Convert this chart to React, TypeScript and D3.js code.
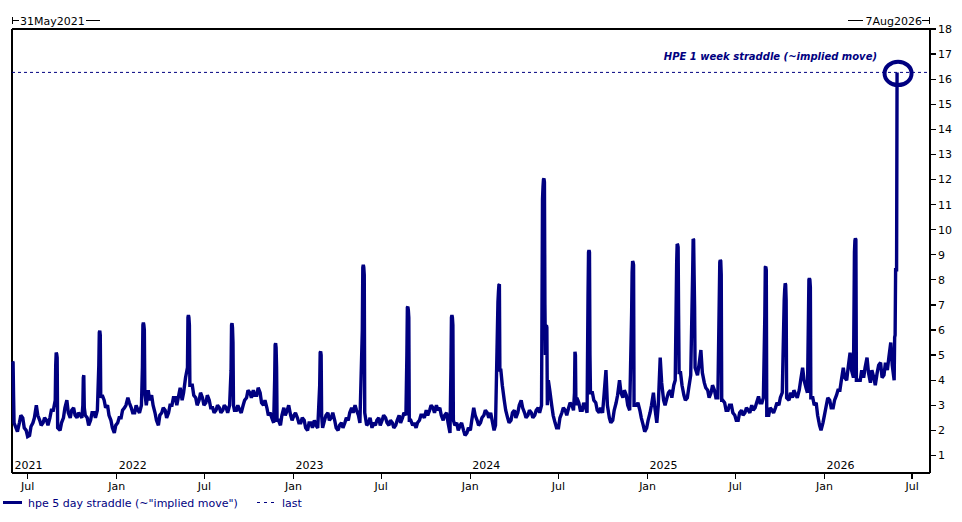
import React from "react";
import * as d3 from "d3";

// ---- data ----
const rangeStart = "2021-05-31";
const rangeEnd = "2026-08-07";
const weeklyStart = "2021-05-31";
// Monday readings
const weeklyValues: number[] = [
  2.2, 2.1, 2.3, 2.5, 2.0, 1.8, 2.3, 3.0, 2.4, 2.3,
  2.4, 2.5, 2.8, 2.9, 2.0, 2.5, 3.2, 2.5, 2.9, 2.5,
  2.6, 2.9, 2.5, 2.4, 2.7, 2.8, 3.0, 3.2, 3.0, 2.4,
  1.9, 2.3, 2.5, 2.9, 3.3, 2.9, 2.7, 2.8, 3.0, 3.3,
  3.6, 3.4, 2.7, 2.2, 2.7, 2.8, 2.7, 3.0, 3.3, 3.4,
  3.2, 4.1, 3.0, 3.8, 3.3, 3.2, 3.3, 3.1, 3.2, 2.9,
  2.8, 2.9, 2.8, 2.9, 3.0, 3.0, 2.8, 2.8, 3.0, 3.3,
  3.5, 3.6, 3.4, 3.5, 3.0, 2.9, 2.7, 2.3, 2.6, 2.2,
  2.9, 2.8, 2.6, 2.6, 2.5, 2.3, 2.4, 2.0, 2.3, 2.4,
  2.1, 2.3, 2.4, 2.7, 2.5, 2.4, 2.0, 2.3, 2.3, 2.4,
  2.9, 3.0, 2.6, 1.7, 2.5, 2.3, 2.1, 2.2, 2.5, 2.4,
  2.5, 2.2, 2.3, 2.2, 2.6, 2.5, 2.6, 2.6, 2.2, 2.1,
  2.4, 2.6, 2.8, 2.8, 2.9, 3.0, 2.9, 2.4, 2.7, 1.9,
  2.4, 2.3, 2.2, 2.0, 1.9, 2.0, 2.9, 2.4, 2.3, 2.6,
  2.7, 2.7, 2.0, 2.4, 4.4, 3.2, 2.5, 2.4, 2.8, 2.7,
  3.2, 2.7, 2.6, 2.7, 2.6, 2.9, 3.0, 3.0, 4.0, 3.0,
  2.3, 2.1, 2.7, 2.8, 2.9, 3.0, 3.0, 3.1, 2.8, 2.9,
  3.0, 3.5, 3.1, 2.7, 2.7, 4.4, 2.5, 2.4, 3.1, 4.0,
  3.3, 3.4, 2.8, 2.9, 3.0, 2.8, 2.2, 2.1, 2.7, 3.5,
  2.3, 4.9, 3.2, 3.3, 3.6, 3.8, 4.0, 4.3, 3.4, 3.3,
  4.2, 4.5, 4.2, 5.2, 3.9, 3.6, 3.5, 3.6, 3.3, 3.4,
  3.1, 2.8, 3.0, 2.6, 2.4, 2.8, 2.7, 2.8, 3.0, 2.9,
  3.35, 3.1, 3.2, 2.6, 2.8, 2.9, 3.0, 3.5, 3.3, 3.2,
  3.3, 3.4, 3.6, 4.5, 3.7, 3.8, 3.3, 3.1, 2.2, 2.3,
  3.0, 3.2, 2.9, 3.4, 3.6, 4.5, 4.0, 5.1, 4.1, 4.2,
  4.0, 4.1, 4.9, 3.9, 4.1, 4.3, 4.7, 4.2, 4.4, 5.5,
  4.0,
];
// Thursday readings (other edge of the daily band)
const midweekValues: number[] = [
  2.45, 1.95, 2.6, 2.1, 1.75, 2.15, 2.5, 2.6, 2.2, 2.5,
  2.2, 2.8, 2.6, 3.2, 2.3, 2.9, 2.7, 2.8, 2.6, 2.7,
  2.5, 2.6, 2.2, 2.7, 2.5, 3.0, 3.4, 2.9, 2.6, 2.1,
  2.2, 2.5, 2.8, 3.0, 3.1, 2.7, 3.0, 2.7, 3.3, 3.0,
  3.2, 3.0, 2.4, 2.6, 2.9, 2.5, 3.0, 3.3, 3.0, 3.7,
  3.5, 3.5, 3.5, 3.4, 3.0, 3.5, 3.0, 3.4, 2.9, 2.7,
  3.0, 2.7, 3.0, 2.7, 3.2, 2.8, 3.0, 2.7, 3.2, 3.6,
  3.3, 3.4, 3.7, 3.1, 3.2, 2.6, 2.5, 2.6, 2.4, 2.6,
  2.6, 3.0, 2.4, 2.7, 2.3, 2.5, 2.1, 2.3, 2.1, 2.2,
  2.4, 2.1, 2.6, 2.4, 2.7, 2.1, 2.2, 2.1, 2.5, 2.7,
  2.7, 2.8, 2.3, 2.0, 2.2, 2.5, 2.3, 2.4, 2.2, 2.6,
  2.3, 2.4, 2.1, 2.4, 2.3, 2.7, 2.4, 2.4, 2.3, 2.3,
  2.6, 2.5, 2.6, 3.0, 2.7, 2.8, 2.6, 2.6, 2.3, 2.2,
  2.2, 2.0, 2.3, 1.8, 2.1, 2.4, 2.6, 2.2, 2.5, 2.8,
  2.5, 2.4, 2.2, 2.6, 3.8, 2.8, 2.3, 2.7, 2.5, 3.0,
  2.9, 2.5, 2.8, 2.5, 2.8, 2.7, 2.8, 3.2, 3.6, 2.6,
  2.1, 2.5, 2.9, 2.6, 3.1, 2.8, 3.3, 2.8, 3.1, 2.7,
  3.3, 3.2, 2.8, 2.9, 3.4, 3.0, 2.3, 2.8, 3.4, 3.5,
  3.6, 3.0, 3.1, 2.7, 3.1, 2.5, 1.95, 2.4, 3.0, 2.9,
  3.0, 3.9, 3.0, 3.5, 3.3, 4.0, 4.3, 3.8, 3.2, 3.7,
  4.0, 4.3, 4.6, 4.3, 3.7, 3.3, 3.8, 3.3, 3.5, 3.2,
  2.8, 3.0, 2.7, 2.4, 2.7, 2.6, 2.9, 2.7, 2.8, 3.1,
  3.1, 3.3, 2.9, 2.9, 2.7, 3.1, 3.3, 3.2, 3.1, 3.5,
  3.6, 3.3, 4.0, 4.0, 3.5, 3.4, 3.0, 2.6, 2.0, 2.6,
  3.3, 2.9, 3.2, 3.6, 4.0, 4.1, 4.5, 4.4, 4.5, 4.0,
  4.4, 4.5, 4.3, 4.4, 3.8, 4.6, 4.1, 4.7, 4.9, 4.6,
];
// daily values around earnings spikes
const spikeStarts: string[] = [
  "2021-05-31", "2021-08-27", "2021-10-23", "2021-11-25", "2022-02-23",
  "2022-05-27", "2022-08-25", "2022-11-23", "2023-02-24", "2023-05-23",
  "2023-08-23", "2023-11-22", "2024-02-27", "2024-05-29", "2024-08-03",
  "2024-08-31", "2024-11-29", "2025-03-02", "2025-04-04", "2025-05-30",
  "2025-08-31", "2025-10-10", "2025-11-30", "2026-03-04", "2026-05-25",
];
const spikeValues: number[][] = [
  [4.75, 4.7, 3.4, 2.3],
  [3.2, 4.6, 5.1, 5.05, 4.9, 2.1],
  [3.0, 4.1, 4.2, 2.9],
  [4.6, 5.9, 5.97, 5.8, 3.3],
  [4.5, 6.2, 6.3, 6.2, 6.0, 3.5],
  [4.5, 6.5, 6.6, 6.5, 6.2, 3.8],
  [4.4, 6.2, 6.27, 6.1, 5.5, 3.0],
  [4.0, 5.4, 5.47, 5.3, 4.5, 2.4],
  [3.8, 5.1, 5.14, 5.0, 2.6],
  [6.0, 8.5, 8.6, 8.5, 8.2, 2.7],
  [5.0, 6.9, 6.93, 6.8, 6.5, 2.4],
  [4.5, 6.5, 6.6, 6.5, 6.2, 2.4],
  [7.1, 7.5, 7.8, 7.82, 4.4],
  [11.2, 11.7, 12.0, 12.04, 11.9, 7.0, 5.0, 5.5, 6.2, 6.1, 3.0],
  [3.5, 5.13, 5.0, 3.0],
  [7.4, 9.1, 9.19, 9.1, 5.0, 3.5],
  [6.7, 8.3, 8.75, 8.7, 8.6, 3.0],
  [8.7, 9.43, 9.4, 9.3, 6.6, 4.3],
  [8.3, 9.63, 9.6, 8.2, 6.9, 4.5],
  [8.7, 8.79, 8.75, 8.2, 3.2],
  [6.6, 8.5, 8.52, 8.4, 2.6],
  [7.2, 7.6, 7.86, 7.8, 7.2, 3.3],
  [8.0, 8.06, 8.0, 7.7, 3.3],
  [9.1, 9.57, 9.65, 9.6, 4.0],
  [4.0, 5.7, 5.8, 8.4, 8.4, 8.4, 16.27],
];
const yTickValues = [1, 2, 3, 4, 5, 6, 7, 8, 9, 10, 11, 12, 13, 14, 15, 16, 17, 18];
const yearLabels = ["2021", "2022", "2023", "2024", "2025", "2026"];
const seriesLabel = 'hpe 5 day straddle (~"implied move")';
const lastLabel = "last";
const annotationText = "HPE 1 week straddle (~implied move)";

// ---- layout ----
const W = 962;
const H = 522;
const left = 12.6;
const right = 930;
const top = 29;
const bottom = 473;
const navy = "#000080";
const font = "'DejaVu Sans', Verdana, sans-serif";

const parse = d3.utcParse("%Y-%m-%d");
const DAY = 86400000;

type Pt = { date: Date; value: number };

export default function App() {
  const d0 = parse(rangeStart)!;
  const d1 = parse(rangeEnd)!;
  const x = d3.scaleUtc().domain([d0, d1]).range([left, right]);
  const y = d3.scaleLinear().domain([0.3, 18]).range([bottom, top]);

  const spikes: Pt[][] = spikeStarts.map((s, i) => {
    const t0 = parse(s)!.getTime();
    return spikeValues[i].map((v, j) => ({ date: new Date(t0 + j * DAY), value: v }));
  });
  const spans = spikes.map((p) => [p[0].date.getTime() - DAY, p[p.length - 1].date.getTime() + DAY]);
  const w0 = parse(weeklyStart)!.getTime();
  const outside = (p: Pt) => !spans.some(([a, b]) => p.date.getTime() >= a && p.date.getTime() <= b);
  const weekly: Pt[] = weeklyValues.map((v, i) => ({ date: new Date(w0 + i * 7 * DAY), value: v }));
  const midweek: Pt[] = midweekValues.map((v, i) => ({ date: new Date(w0 + (i * 7 + 3) * DAY), value: v }));
  const series = [...weekly.filter(outside), ...midweek.filter(outside), ...spikes.flat()].sort(
    (a, b) => a.date.getTime() - b.date.getTime()
  );
  const last = series[series.length - 1];

  const line = d3
    .line<Pt>()
    .x((d) => x(d.date))
    .y((d) => y(d.value));

  const monthTicks = d3.utcMonths(d0, d1).filter((d) => d.getUTCMonth() === 0 || d.getUTCMonth() === 6);
  const fmtMonth = d3.utcFormat("%b");
  const fmtTop = d3.utcFormat("%-d%b%Y");
  const yearPos = yearLabels.map((yl, i) => (i === 0 ? d0 : parse(`${yl}-01-01`)!));

  const lastY = y(last.value);
  const lastX = x(last.date);

  return (
    <svg
      width={W}
      height={H}
      style={{ position: "absolute", left: 0, top: 0, background: "#fff" }}
      fontFamily={font}
      fontSize={11}
    >
      {/* top range labels */}
      <g stroke="#000" strokeWidth={1} shapeRendering="crispEdges">
        <line x1={12.5} x2={12.5} y1={17} y2={24} />
        <line x1={12.5} x2={19} y1={20.5} y2={20.5} />
        <line x1={86} x2={100} y1={20.5} y2={20.5} />
        <line x1={848} x2={863} y1={20.5} y2={20.5} />
        <line x1={922} x2={930} y1={20.5} y2={20.5} />
        <line x1={929.5} x2={929.5} y1={17} y2={24} />
      </g>
      <text x={20} y={24.5} fill="#000">{fmtTop(d0)}</text>
      <text x={922} y={24.5} fill="#000" textAnchor="end">{fmtTop(d1)}</text>

      {/* frame */}
      <g stroke="#000" strokeWidth={1.3} fill="none" shapeRendering="crispEdges">
        <line x1={12} x2={930} y1={top} y2={top} />
        <line x1={12} x2={12} y1={top} y2={bottom} />
        <line x1={12} x2={930} y1={bottom} y2={bottom} />
        <line x1={930} x2={930} y1={top} y2={bottom} />
      </g>

      {/* right axis */}
      <g shapeRendering="crispEdges">
        {yTickValues.map((v) => (
          <g key={v}>
            <line x1={930} x2={936} y1={y(v)} y2={y(v)} stroke="#000" strokeWidth={1.3} />
            <text x={938} y={y(v)} dy="0.36em" fill="#000">{v}</text>
          </g>
        ))}
      </g>

      {/* bottom axis */}
      {monthTicks.map((d) => (
        <g key={d.getTime()}>
          <line x1={x(d)} x2={x(d)} y1={bottom} y2={bottom + 6} stroke="#000" strokeWidth={1.3} shapeRendering="crispEdges" />
          <text x={x(d)} y={490} textAnchor="middle" fill="#000">{fmtMonth(d)}</text>
        </g>
      ))}
      {yearLabels.map((yl, i) => (
        <text key={yl} x={x(yearPos[i]) + 2} y={469} fill="#000">{yl}</text>
      ))}

      {/* last-value dashed line */}
      <line x1={12} x2={930} y1={lastY} y2={lastY} stroke={navy} strokeWidth={1} strokeDasharray="3,3" />

      {/* series */}
      <path d={line(series) ?? ""} fill="none" stroke={navy} strokeWidth={3.4} strokeLinejoin="miter" strokeMiterlimit={2} />

      {/* annotation */}
      <ellipse cx={lastX + 1} cy={lastY + 1} rx={13.5} ry={11.7} fill="none" stroke={navy} strokeWidth={4} />
      <text x={877} y={60} textAnchor="end" fill={navy} fontWeight="bold" fontStyle="italic" fontSize={10}>
        {annotationText}
      </text>

      {/* legend */}
      <line x1={3} x2={22} y1={502.5} y2={502.5} stroke={navy} strokeWidth={3} />
      <text x={28} y={506.5} fill={navy}>{seriesLabel}</text>
      <line x1={257} x2={276} y1={502.5} y2={502.5} stroke={navy} strokeWidth={1} strokeDasharray="3,4" />
      <text x={282} y={506.5} fill={navy}>{lastLabel}</text>
    </svg>
  );
}
